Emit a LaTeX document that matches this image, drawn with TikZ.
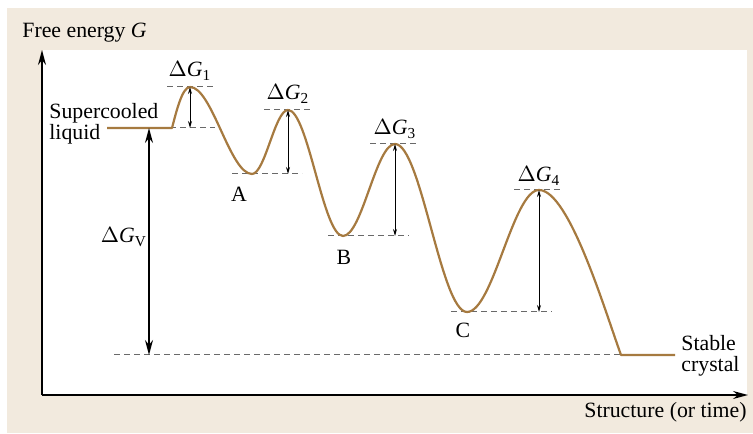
\documentclass[tikz,border=0pt]{standalone}
\usepackage{fontspec}
\setmainfont{Liberation Serif}
\usetikzlibrary{arrows.meta,calc}
\definecolor{panelbeige}{RGB}{242,234,222}
\definecolor{pathbrown}{RGB}{166,122,64}
\definecolor{guidegray}{RGB}{105,105,105}
\newcommand{\dG}[1]{$\Delta$\textit{G}\textsubscript{#1}}

\begin{document}
\begin{tikzpicture}[x=0.5pt,y=0.5pt,font=\fontsize{10.9}{10.6}\selectfont]
\tikzset{
  axis/.style={-{Stealth[length=7.5pt,width=4pt]},line width=0.7pt},
  energypath/.style={pathbrown,line width=1.1pt,line join=round},
  guide/.style={guidegray,line width=0.5pt,dash pattern=on 3pt off 2pt},
  barrier/.style={{Stealth[length=3.5pt,width=2pt]}-{Stealth[length=3.5pt,width=2pt]},line width=0.5pt},
  drop/.style={{Stealth[length=7.5pt,width=4pt]}-{Stealth[length=7.5pt,width=4pt]},line width=0.7pt},
  lbl/.style={inner sep=0pt}
}
\useasboundingbox (0,0) rectangle (753,433);
\fill[panelbeige] (7,0) rectangle (753,425);
\fill[white] (43,38) rectangle (747,383);
% axes
\coordinate (origin) at (42,38);
\coordinate (ytip) at (42,383);
\coordinate (xtip) at (748,38);
\draw[axis] (origin) -- (ytip);
\draw[axis] (origin) -- (xtip);
\node[lbl,anchor=base west] (ylabel) at (22,395) {Free energy \textit{G}};
\node[lbl,anchor=base east] (xlabel) at (747,16) {Structure (or time)};
% points of the path
\coordinate (liqL) at (107,305);
\coordinate (liqR) at (172,305);
\coordinate (pk1) at (190,346);
\coordinate (mA) at (252,259);
\coordinate (pk2) at (288,323);
\coordinate (mB) at (343,197);
\coordinate (pk3) at (395,289);
\coordinate (mC) at (467,121);
\coordinate (pk4) at (539,243);
\coordinate (xtalL) at (621,78);
\coordinate (xtalR) at (675,78);
\coordinate (gv) at (149,0);
% guide lines
\draw[guide] ($(pk1)+(-23,0)$) -- ($(pk1)+(25,0)$);
\draw[guide] ($(pk1 |- liqR)+(-20,0)$) -- ($(pk1 |- liqR)+(25,0)$);
\draw[guide] ($(pk2)+(-24,0)$) -- ($(pk2)+(25,0)$);
\draw[guide] ($(pk2 |- mA)+(-56,0)$) -- ($(pk2 |- mA)+(14,0)$);
\draw[guide] ($(pk3)+(-25,0)$) -- ($(pk3)+(24,0)$);
\draw[guide] ($(pk3 |- mB)+(-67,0)$) -- ($(pk3 |- mB)+(14,0)$);
\draw[guide] ($(pk4)+(-25,0)$) -- ($(pk4)+(24,0)$);
\draw[guide] ($(pk4 |- mC)+(-88,0)$) -- ($(pk4 |- mC)+(13,0)$);
\draw[guide] ($(gv |- xtalL)+(-35,0)$) -- (xtalL);
% free energy path
\draw[energypath] (liqL) -- (liqR)
  .. controls +(4,15) and +(-8,0) .. (pk1)
  .. controls +(22,0) and +(-22,0) .. (mA)
  .. controls +(13,0) and +(-13,0) .. (pk2)
  .. controls +(20,0) and +(-20,0) .. (mB)
  .. controls +(19,0) and +(-19,0) .. (pk3)
  .. controls +(26,0) and +(-26,0) .. (mC)
  .. controls +(26,0) and +(-26,0) .. (pk4)
  .. controls +(30,0) and +(-16,44) .. (xtalL) -- (xtalR);
% barriers
\draw[barrier] (pk1) -- (pk1 |- liqR);
\draw[barrier] (pk2) -- (pk2 |- mA);
\draw[barrier] (pk3) -- (pk3 |- mB);
\draw[barrier] (pk4) -- (pk4 |- mC);
\draw[drop] (gv |- liqR) -- (gv |- xtalL);
% labels
\node[lbl,anchor=base] (l_g1) at ([yshift=5pt]pk1) {\dG{1}};
\node[lbl,anchor=base] (l_g2) at ([yshift=5pt]pk2) {\dG{2}};
\node[lbl,anchor=base] (l_g3) at ([yshift=4.5pt]pk3) {\dG{3}};
\node[lbl,anchor=base] (l_g4) at ([yshift=4pt]pk4) {\dG{4}};
\node[lbl,anchor=base] (l_gv) at (124,190) {\dG{V}};
\node[lbl,anchor=base] (l_A) at (239,231) {A};
\node[lbl,anchor=base] (l_B) at (344,168) {B};
\node[lbl,anchor=base] (l_C) at (463,95) {C};
\node[lbl,anchor=west,align=left] (l_liq) at (49,309) {Supercooled\\liquid};
\node[lbl,anchor=west,align=left] (l_xtal) at (681,77) {Stable\\crystal};
\end{tikzpicture}
\end{document}
